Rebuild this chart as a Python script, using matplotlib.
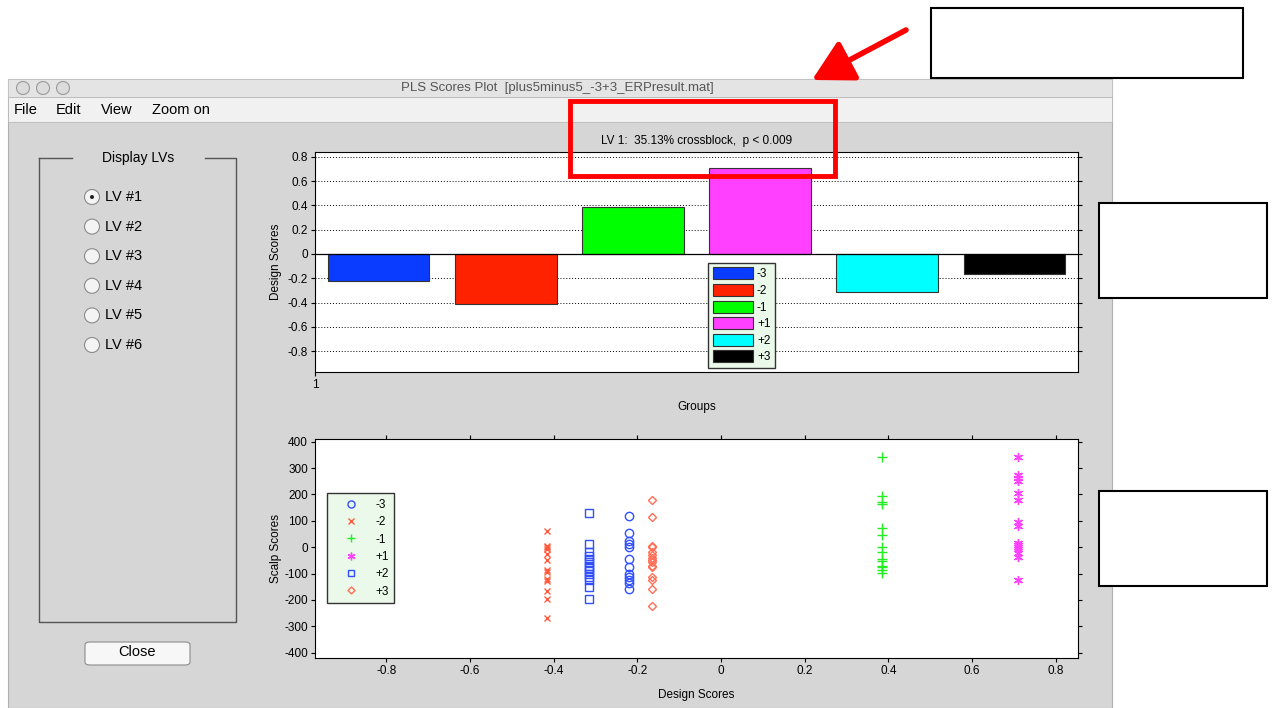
import numpy as np
import matplotlib
matplotlib.use("Agg")
import matplotlib.pyplot as plt
from matplotlib.patches import Rectangle, Ellipse, FancyBboxPatch, FancyArrowPatch
from matplotlib.lines import Line2D

plt.rcParams['font.family'] = ['Liberation Sans', 'DejaVu Sans']

# %%
# data
groups = ['-3', '-2', '-1', '+1', '+2', '+3']
design_scores = [-0.22, -0.415, 0.385, 0.71, -0.315, -0.165]
bar_colors = ['#0a3cff', '#ff2200', '#00ff00', '#ff40ff', '#00ffff', '#000000']

scalp_m3 = [119, 53, 25, 12, 2, -44, -76, -101, -114, -124, -135, -158]
scalp_m2 = [62, 5, 0, -5, -27, -48, -88, -95, -122, -128, -167, -197, -270]
scalp_m1 = [340, 195, 171, 163, 72, 45, 0, -20, -44, -52, -70, -77, -88, -97]
scalp_p1 = [343, 272, 262, 249, 205, 178, 97, 80, 17, 8, 2, -5, -22, -38, -124]
scalp_p2 = [131, 11, -20, -32, -45, -58, -70, -80, -92, -100, -112, -125, -150, -197]
scalp_p3 = [177, 115, 5, 0, -18, -30, -42, -48, -55, -72, -76, -113, -124, -158, -224]
scalp = [scalp_m3, scalp_m2, scalp_m1, scalp_p1, scalp_p2, scalp_p3]
scatter_markers = ['o', 'x', '+', (6, 2, 0), 's', 'D']
scatter_colors = ['#3050ff', '#ff5a3c', '#22ee22', '#ff40ff', '#3050ff', '#ff6e55']

lv_labels = ['LV #1', 'LV #2', 'LV #3', 'LV #4', 'LV #5', 'LV #6']
menu_items = ['File', 'Edit', 'View', 'Zoom on']

W, H = 1274, 708
fig = plt.figure(figsize=(W / 100, H / 100), dpi=100)
fig.patch.set_facecolor('white')


def rect(x0, y0, x1, y1, **kw):
    fig.add_artist(Rectangle((x0 / W, 1 - y1 / H), (x1 - x0) / W, (y1 - y0) / H,
                             transform=fig.transFigure, **kw))


def line(xs, ys, **kw):
    fig.add_artist(Line2D([x / W for x in xs], [1 - y / H for y in ys],
                          transform=fig.transFigure, **kw))


def text(x, y, s, **kw):
    fig.text(x / W, 1 - y / H, s, **kw)


# %%
# window chrome
rect(8, 79, 1112, 708, facecolor='#d6d6d6', edgecolor='#b0b0b0', lw=0.8, zorder=-10)
rect(8, 79, 1112, 97, facecolor='#e4e4e4', edgecolor='#c0c0c0', lw=0.6, zorder=-9)
rect(8, 97, 1112, 122, facecolor='#f1f1f1', edgecolor='#b8b8b8', lw=0.6, zorder=-9)
for cx in [23, 43, 63]:
    fig.add_artist(Ellipse((cx / W, 1 - 88 / H), 13 / W, 13 / H, transform=fig.transFigure,
                           facecolor='#dcdcdc', edgecolor='#9a9a9a', lw=0.8, zorder=-8))
text(557, 88, 'PLS Scores Plot  [plus5minus5_-3+3_ERPresult.mat]', ha='center', va='center',
     fontsize=9.5, color='#555555')
for mx, m in zip([14, 56, 101, 152], menu_items):
    text(mx, 110, m, ha='left', va='center', fontsize=10.5, color='black')

# left panel
line([39, 39, 236, 236, 205], [158, 622, 622, 158, 158], color='#555555', lw=1.0, zorder=-5)
line([39, 72], [158, 158], color='#555555', lw=1.0, zorder=-5)
text(138, 158, 'Display LVs', ha='center', va='center', fontsize=10)
for i, lab in enumerate(lv_labels):
    y = 197 + i * 29.6
    fig.add_artist(Ellipse((92 / W, 1 - y / H), 15 / W, 15 / H, transform=fig.transFigure,
                           facecolor='#f4f4f4', edgecolor='#8a8a8a', lw=0.8, zorder=-4))
    if i == 0:
        fig.add_artist(Ellipse((92 / W, 1 - y / H), 4 / W, 4 / H, transform=fig.transFigure,
                               facecolor='#222222', edgecolor='none', zorder=-3))
    text(105, y, lab, ha='left', va='center', fontsize=10.5)

fig.add_artist(FancyBboxPatch((85 / W, 1 - 665 / H), 105 / W, 23 / H,
                              boxstyle='round,pad=0,rounding_size=0.004',
                              transform=fig.transFigure, facecolor='#f7f7f7',
                              edgecolor='#8c8c8c', lw=0.8, zorder=-4))
text(137, 652, 'Close', ha='center', va='center', fontsize=10.5)

# %%
# bar plot of design scores
tick_font = dict(fontsize=8.5)
ax1 = fig.add_axes([315 / W, 1 - 372 / H, 763 / W, 220 / H])
pos = np.arange(len(groups))
for p, v, c, g in zip(pos, design_scores, bar_colors, groups):
    ax1.bar(p, v, width=0.8, color=c, edgecolor='#333333', lw=0.8, label=g, zorder=3)
ax1.set_xlim(-0.5, 5.5)
ax1.set_ylim(-0.973, 0.841)
yt = np.round(np.arange(-0.8, 0.81, 0.2), 1)
ax1.set_yticks(yt)
ax1.set_yticklabels(['0' if v == 0 else f'{v:g}' for v in yt], **tick_font)
ax1.set_xticks([-0.5])
ax1.set_xticklabels(['1'], **tick_font)
for v in yt:
    ax1.axhline(v, color='black', lw=0.7, ls=(0, (1, 2)), zorder=1)
ax1.axhline(0, color='black', lw=0.9, zorder=4)
ax1.tick_params(direction='out', length=3, right=True, top=False, pad=2)
ax1.set_ylabel('Design Scores', fontsize=8.5, labelpad=4)
ax1.set_xlabel('Groups', fontsize=8.5, labelpad=7)
ax1.set_title('LV 1:  35.13% crossblock,  p < 0.009', fontsize=8.5, pad=6)
leg1 = ax1.legend(loc='upper left', bbox_to_anchor=(0.515, 0.497), fontsize=8.5,
                  handlelength=3.4, handleheight=1.2, handletextpad=0.35, labelspacing=0.3,
                  borderpad=0.4, borderaxespad=0, fancybox=False, framealpha=1)
leg1.get_frame().set_facecolor('#eaf9ea')
leg1.get_frame().set_edgecolor('#333333')
leg1.set_zorder(6)

# %%
# scatter of scalp scores against design scores
ax2 = fig.add_axes([315 / W, 1 - 658 / H, 763 / W, 219 / H])
for g, ds, vals, mk, c in zip(groups, design_scores, scalp, scatter_markers, scatter_colors):
    ms = {'o': 6, 'x': 5, '+': 6.5, 's': 5.5, 'D': 4.2}.get(mk, 6.5)
    ax2.plot(np.full(len(vals), ds), vals, ls='none', marker=mk, ms=ms, mfc='none',
             mec=c, mew=1.0, label=g)
ax2.set_xlim(-0.97, 0.853)
ax2.set_ylim(-420, 410)
xt = np.round(np.arange(-0.8, 0.81, 0.2), 1)
ax2.set_xticks(xt)
ax2.set_xticklabels(['0' if v == 0 else f'{v:g}' for v in xt], **tick_font)
yt2 = np.arange(-400, 401, 100)
ax2.set_yticks(yt2)
ax2.set_yticklabels([str(v) for v in yt2], **tick_font)
ax2.tick_params(direction='out', length=3, right=True, top=True, pad=2)
ax2.set_xlabel('Design Scores', fontsize=8.5, labelpad=9)
ax2.set_ylabel('Scalp Scores', fontsize=8.5, labelpad=2)
leg2 = ax2.legend(loc='upper left', bbox_to_anchor=(0.016, 0.753), fontsize=8.5,
                  handlelength=3.0, handletextpad=0.55, labelspacing=0.45,
                  borderpad=0.5, borderaxespad=0, fancybox=False, framealpha=1,
                  markerscale=0.85)
leg2.get_frame().set_facecolor('#eaf9ea')
leg2.get_frame().set_edgecolor('#333333')

# %%
# annotation overlays
rect(570, 101, 835, 176, facecolor='none', edgecolor='#ff0000', lw=3.5, zorder=20)
fig.add_artist(FancyArrowPatch((906 / W, 1 - 30 / H), (812 / W, 1 - 80 / H),
                               transform=fig.transFigure,
                               arrowstyle='-|>,head_length=0.55,head_width=0.3',
                               mutation_scale=45, shrinkA=0, shrinkB=0,
                               color='#ff0000', lw=4, zorder=20))
for x0, y0, x1, y1 in [(931, 8, 1243, 78), (1099, 203, 1267, 298), (1099, 491, 1267, 586)]:
    rect(x0, y0, x1, y1, facecolor='white', edgecolor='black', lw=1.5, zorder=20)

fig.savefig('out.png', dpi=100)
